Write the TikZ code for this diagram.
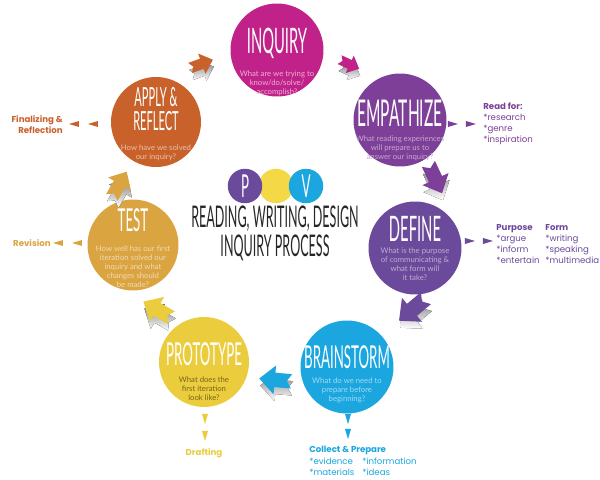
\documentclass[tikz,border=0pt]{standalone}
\usepackage{fontspec}
\setmainfont{Lato}
\newfontfamily\headfont[FakeStretch=0.42]{Lato}
\newfontfamily\notefont{Poppins}
\usetikzlibrary{calc}

\definecolor{inqcol}{HTML}{C0228A}
\definecolor{empcol}{HTML}{7D3F97}
\definecolor{defcol}{HTML}{6B4A9B}
\definecolor{bracol}{HTML}{1BA6DF}
\definecolor{procol}{HTML}{EBCC3C}
\definecolor{tescol}{HTML}{DAA441}
\definecolor{appcol}{HTML}{C9612B}
\definecolor{logoyel}{HTML}{F4D846}
\definecolor{shade}{HTML}{E2E2E2}

% x, y, angle, colour, size
\newcommand{\flowarrow}[5]{%
	\fill[shade,shift={(#1+1,#2+7)},rotate=#3,scale=#5] \arrowpath;
	\fill[#4,shift={(#1,#2)},rotate=#3,scale=#5] \arrowpath;
}
% x, y, angle, colour
\newcommand{\marker}[4]{%
	\fill[#4,shift={(#1,#2)},rotate=#3] (-5,-3) -- (5,0) -- (-5,3) -- cycle;
}

\begin{document}
\begin{tikzpicture}[x=0.02cm,y=-0.02cm,
	stage/.style={circle,fill=#1,inner sep=0pt,minimum size=1.86cm},
	head/.style={font={\headfont\fontsize{#1}{#1}\selectfont},text=white,inner sep=0pt},
	desc/.style={font={\rmfamily\fontsize{4.4}{5.1}\selectfont},text=#1,align=center,inner sep=0pt},
	note/.style={font={\notefont\fontsize{4.9}{6.3}\selectfont},text=#1,inner sep=0pt}]
\def\arrowpath{(-13,-6) -- (1,-6) -- (1,-12) -- (14,0) -- (1,12) -- (1,6) -- (-13,6) -- (-9,0) -- cycle}

\useasboundingbox (0,0) rectangle (600,480);

% stages
\node[stage=inqcol] (inq) at (277,50) {};
\node[stage=empcol] (emp) at (400,120) {};
\node[stage=defcol] (def) at (415,248) {};
\node[stage=bracol] (bra) at (347,367) {};
\node[stage=procol,minimum size=1.80cm] (pro) at (204,362) {};
\node[stage=tescol,minimum size=1.82cm] (tes) at (133,245) {};
\node[stage=appcol,minimum size=1.80cm] (app) at (156,122) {};

\node[head=20] (inqT) at (277,43) {INQUIRY};
\node[desc=white!65!inqcol] (inqD) at (277,83) {What are we trying to\\know/do/solve/\\accomplish?};
\node[head=21] (empT) at (400,113) {EMPATHIZE};
\node[desc=white!55!empcol] (empD) at (400,148) {What reading experiences\\will prepare us to\\answer our inquiry?};
\node[head=20] (defT) at (415,229) {DEFINE};
\node[desc=white!55!defcol] (defD) at (415,264) {What is the purpose\\of communicating \&\\what form will\\it take?};
\node[head=18] (braT) at (347,357) {BRAINSTORM};
\node[desc=white!60!bracol] (braD) at (347,390) {What do we need to\\prepare before\\beginning?};
\node[head=18] (proT) at (204,354) {PROTOTYPE};
\node[desc=black!50!procol] (proD) at (204,389) {What does the\\first iteration\\look like?};
\node[head=18] (tesT) at (133,220) {TEST};
\node[desc=white!60!tescol] (tesD) at (133,267) {How well has our first\\iteration solved our\\inquiry and what\\changes should\\be made?};
\node[head=15,align=center,font={\headfont\fontsize{15}{13.6}\selectfont}] (appT) at (156,109) {APPLY \&\\REFLECT};
\node[desc=white!60!appcol] (appD) at (156,153) {How have we solved\\our inquiry?};

% logo
\node[circle,fill=logoyel,minimum size=0.69cm] (ly) at (276,186) {};
\node[circle,fill=defcol,minimum size=0.69cm,head=18] (lp) at (245,186) {P};
\node[circle,fill=bracol,minimum size=0.69cm,head=18] (lv) at (306,186) {V};
\node[head=17,text=black!85] (rw) at (275,219) {READING, WRITING, DESIGN};
\node[head=17,text=black!85] (ip) at (275,248) {INQUIRY PROCESS};

% flow arrows
\flowarrow{349}{64}{-25}{inqcol}{0.8}
\flowarrow{435}{178}{-65}{empcol}{1.2}
\flowarrow{413}{309}{-140}{defcol}{1.3}
\flowarrow{276}{380}{175}{bracol}{1.2}
\flowarrow{158}{310}{150}{procol}{1.2}
\flowarrow{119}{185}{60}{tescol}{1.1}
\flowarrow{201}{64}{20}{appcol}{0.9}

% side notes
\marker{453}{124}{0}{empcol}
\marker{471}{124}{0}{empcol}
\node[note=empcol,anchor=north west,align=left] (readfor) at (483,102) {\textbf{Read for:}\\{*}research\\{*}genre\\{*}inspiration};

\marker{470}{241}{0}{defcol}
\marker{488}{241}{0}{defcol}
\node[note=defcol,anchor=north west,align=left] (purpose) at (496,224) {\textbf{Purpose}\\{*}argue\\{*}inform\\{*}entertain};
\node[note=defcol,anchor=north west,align=left] (form) at (545,224) {\textbf{Form}\\{*}writing\\{*}speaking\\{*}multimedia};

\marker{348}{419}{-90}{bracol}
\marker{348}{434}{-90}{bracol}
\node[note=bracol,anchor=north west] (collect) at (309,446) {\textbf{Collect \& Prepare}};
\node[note=bracol,anchor=north west,align=left] (colA) at (309,458) {{*}evidence\\{*}materials};
\node[note=bracol,anchor=north west,align=left] (colB) at (362,458) {{*}information\\{*}ideas};

\marker{205}{419}{-90}{procol}
\marker{205}{436}{-90}{procol}
\node[note=procol] (draft) at (204,453) {\textbf{Drafting}};

\marker{77}{243}{180}{tescol}
\marker{58}{243}{180}{tescol}
\node[note=tescol,anchor=east] (revision) at (51,243) {\textbf{Revision}};

\marker{93}{124}{180}{appcol}
\marker{74}{124}{180}{appcol}
\node[note=appcol,anchor=east,align=right] (final) at (63,125) {\textbf{Finalizing \&}\\\textbf{Reflection}};

\end{tikzpicture}
\end{document}
